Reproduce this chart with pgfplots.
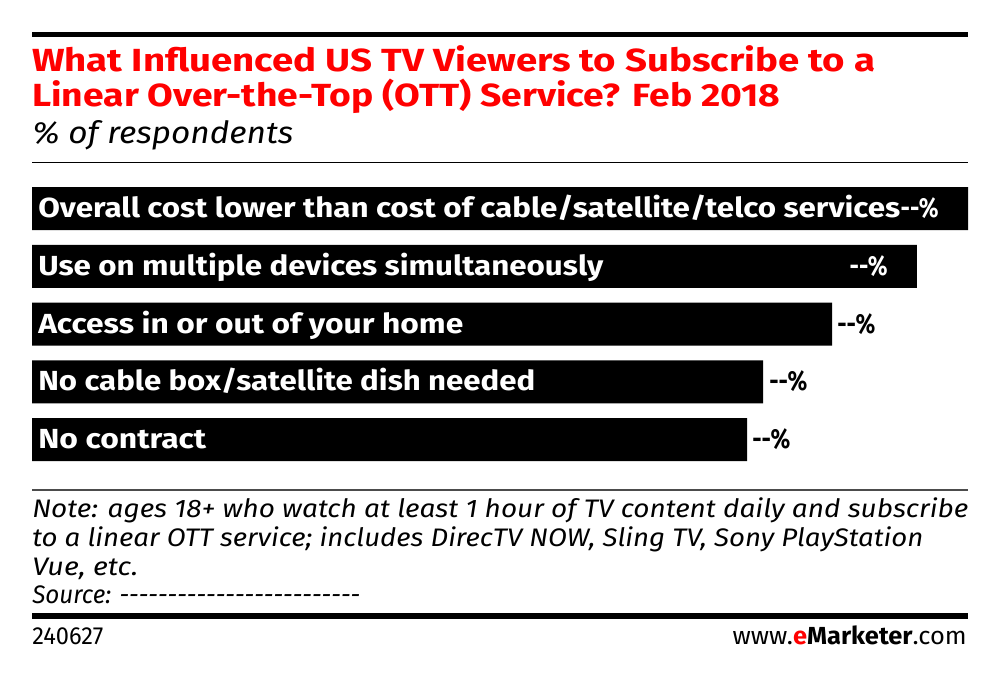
\documentclass[border=0pt]{standalone}
\usepackage{fontspec}
\setmainfont{Fira Sans}
\usepackage{graphicx}
\usepackage{pgfplots}
\pgfplotsset{compat=1.18}
\definecolor{emred}{RGB}{255,0,0}
\newcommand\fitw[2]{\resizebox{#1}{\height}{#2}}
\newcommand\dd{-{}-{}-{}-{}-{}}
\begin{document}
\begin{tikzpicture}[x=0.75pt,y=-0.75pt]
\useasboundingbox (0,0) rectangle (1000,675);
% rules
\draw[line width=3.75pt] (32,34.2) -- (968,34.2);
\draw[line width=1.1pt] (32,162.3) -- (968,162.3);
\draw[line width=1.5pt, black!70] (32,490) -- (968,490);
\draw[line width=4.5pt] (32,616) -- (968,616);
% title
\node[anchor=base west, inner sep=0, text=emred, font=\fontsize{24}{28}\selectfont\bfseries] at (32,71.5)
  {\fitw{632.25pt}{What Influenced US TV Viewers to Subscribe to a}};
\node[anchor=base west, inner sep=0, text=emred, font=\fontsize{24}{28}\selectfont\bfseries] at (32,106)
  {\fitw{561pt}{Linear Over-the-Top (OTT) Service? Feb 2018}};
\node[anchor=base west, inner sep=0, font=\fontsize{23}{26}\selectfont\itshape] at (32,143)
  {\fitw{195.75pt}{\% of respondents}};
% notes
\begin{scope}[every node/.style={anchor=base west, inner sep=0, font=\fontsize{19}{22}\selectfont\itshape}]
\node at (32,517) {\fitw{702pt}{Note: ages 18+ who watch at least 1 hour of TV content daily and subscribe}};
\node at (32,546) {\fitw{668.25pt}{to a linear OTT service; includes DirecTV NOW, Sling TV, Sony PlayStation}};
\node at (32,575) {\fitw{79.5pt}{Vue, etc.}};
\node at (32,603) {\fitw{246pt}{Source: \dd\dd\dd\dd\dd}};
\end{scope}
% footer
\node[anchor=base west, inner sep=0, font=\fontsize{18.5}{21}\selectfont] at (32,644) {\fitw{53.25pt}{240627}};
\node[anchor=base east, inner sep=0, font=\fontsize{18.5}{21}\selectfont] at (967,644)
  {\fitw{175.5pt}{www.{\bfseries\color{emred}e}{\bfseries Marketer}.com}};
% chart
\begin{axis}[at={(24pt,-345.75pt)}, anchor=south west,
  width=702pt, height=205.5pt, scale only axis,
  xmin=0, xmax=100, ymin=0.6277, ymax=5.3723,
  hide axis, xbar, bar width=32.25pt, clip=false]
\addplot[fill=black, draw=none] coordinates {(100,5) (94.55,4) (85.47,3) (78.10,2) (76.39,1)};
\begin{scope}[every node/.style={inner sep=0, font=\fontsize{20.7}{24}\selectfont\bfseries}]
\node[anchor=base west, text=white, xshift=4.5pt, yshift=-6.75pt] at (axis cs:0,5) {\fitw{646.5pt}{Overall cost lower than cost of cable/satellite/telco services}};
\node[anchor=base west, text=white, xshift=4.5pt, yshift=-6.75pt] at (axis cs:0,4) {\fitw{423.75pt}{Use on multiple devices simultaneously}};
\node[anchor=base west, text=white, xshift=4.5pt, yshift=-6.75pt] at (axis cs:0,3) {\fitw{318.75pt}{Access in or out of your home}};
\node[anchor=base west, text=white, xshift=4.5pt, yshift=-6.75pt] at (axis cs:0,2) {\fitw{372.75pt}{No cable box/satellite dish needed}};
\node[anchor=base west, text=white, xshift=4.5pt, yshift=-6.75pt] at (axis cs:0,1) {\fitw{126pt}{No contract}};
\node[anchor=base east, text=white, xshift=-21.75pt, yshift=-6.75pt] at (axis cs:100,5) {\fitw{28.5pt}{-{}-\%}};
\node[anchor=base east, text=white, xshift=-21.75pt, yshift=-6.75pt] at (axis cs:94.55,4) {\fitw{28.5pt}{-{}-\%}};
\node[anchor=base west, xshift=3.75pt, yshift=-6.75pt] at (axis cs:85.47,3) {\fitw{28.5pt}{-{}-\%}};
\node[anchor=base west, xshift=4.5pt, yshift=-6.75pt] at (axis cs:78.10,2) {\fitw{28.5pt}{-{}-\%}};
\node[anchor=base west, xshift=3.75pt, yshift=-6.75pt] at (axis cs:76.39,1) {\fitw{28.5pt}{-{}-\%}};
\end{scope}
\end{axis}
\end{tikzpicture}
\end{document}
